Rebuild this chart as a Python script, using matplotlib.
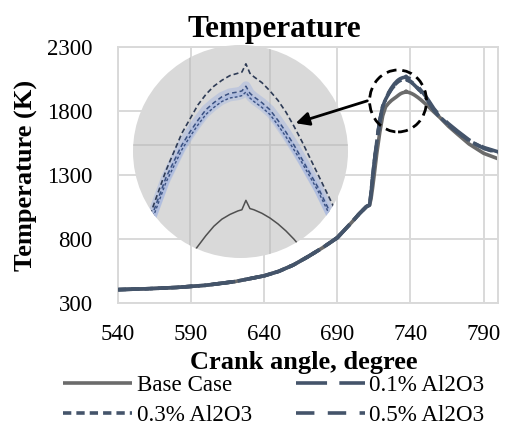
import matplotlib
matplotlib.use('Agg')
import matplotlib.pyplot as plt
from matplotlib.patches import Ellipse, FancyArrowPatch

# dane
angle = [540, 560, 580, 600, 620, 640, 650, 660, 670, 680, 690, 700, 705, 710, 712, 713,
         714, 715, 717, 719, 721, 723, 725, 727, 729, 730, 731, 732, 733, 734, 735,
         736, 736.5, 737, 737.5, 738, 739, 740, 741, 742, 743, 744, 745, 746, 747, 748,
         750, 752, 754, 756, 760, 766, 772, 780, 790, 800]

base_case = [402, 409, 419, 436, 465, 510, 545, 595, 660, 730, 808, 930, 995, 1052, 1062, 1110,
             1190, 1280, 1470, 1630, 1760, 1830, 1858, 1880, 1897, 1905, 1914, 1923, 1931, 1937, 1941,
             1944, 1945, 1953, 1946, 1945, 1942, 1938, 1933, 1927, 1920, 1912, 1904, 1895, 1886, 1876,
             1856, 1834, 1812, 1790, 1748, 1678, 1618, 1540, 1467, 1424]

al2o3_01 = [402, 409, 419, 436, 465, 510, 545, 595, 660, 730, 808, 930, 995, 1052, 1062, 1150,
            1272, 1375, 1565, 1725, 1835, 1898, 1940, 1978, 2010, 2022, 2034, 2043, 2050, 2055, 2059,
            2061, 2062, 2069, 2061, 2058, 2053, 2046, 2038, 2028, 2016, 2003, 1989, 1975, 1961, 1947,
            1918, 1886, 1851, 1816, 1760, 1698, 1642, 1572, 1513, 1478]

al2o3_03 = [402, 409, 419, 436, 465, 510, 545, 595, 660, 730, 808, 930, 995, 1052, 1062, 1150,
            1270, 1370, 1560, 1720, 1830, 1893, 1935, 1972, 2000, 2011, 2021, 2030, 2036, 2041, 2044,
            2045, 2046, 2050, 2044, 2041, 2036, 2030, 2021, 2011, 2000, 1988, 1976, 1964, 1950, 1936,
            1907, 1876, 1841, 1806, 1752, 1690, 1635, 1566, 1508, 1472]

al2o3_05 = [402, 409, 419, 436, 465, 510, 545, 595, 660, 730, 808, 930, 995, 1052, 1062, 1148,
            1265, 1365, 1555, 1715, 1826, 1889, 1931, 1968, 1996, 2007, 2017, 2026, 2032, 2037, 2040,
            2041, 2042, 2045, 2040, 2037, 2032, 2026, 2017, 2007, 1996, 1985, 1973, 1961, 1947, 1933,
            1904, 1873, 1838, 1803, 1749, 1688, 1633, 1564, 1506, 1470]

x_ticks = [540, 590, 640, 690, 740, 790]
y_ticks = [300, 800, 1300, 1800, 2300]

szary = '#6b6b6b'
niebieski = '#44546a'

plt.rcParams['font.family'] = ['Liberation Serif', 'DejaVu Serif']

W, H = 505, 425
fig = plt.figure(figsize=(W / 100, H / 100), dpi=100)
ax = fig.add_axes([117.8 / W, 1 - 302.7 / H, 380.5 / W, 256 / H])

l0, = ax.plot(angle, base_case, color=szary, lw=2.6, solid_capstyle='butt', label='Base Case', zorder=2)
l1, = ax.plot(angle, al2o3_01, color=niebieski, lw=2.6, ls=(0, (8.6, 3.4)), label='0.1% Al2O3', zorder=3)
l3, = ax.plot(angle, al2o3_03, color=niebieski, lw=2.6, ls=(0, (2.3, 1.4)), label='0.3% Al2O3', zorder=3)
l5, = ax.plot(angle, al2o3_05, color=niebieski, lw=2.6, ls=(0, (5.1, 3.7)), label='0.5% Al2O3', zorder=3)

ax.set_xlim(540, 800)
ax.set_ylim(300, 2300)
ax.set_xticks(x_ticks)
ax.set_yticks(y_ticks)
ax.grid(True, color='#d9d9d9', lw=1.4)
ax.set_axisbelow(True)
for s in ax.spines.values():
    s.set_color('#d9d9d9')
    s.set_linewidth(1.4)
ax.tick_params(length=0, labelsize=16.5)
ax.tick_params(axis='y', pad=18)
ax.tick_params(axis='x', pad=15.5)

# przerywany okrag wokol szczytu
ax.add_patch(Ellipse((731.5, 1876), 38.9, 484, fill=False, ec='black', lw=2,
                     ls=(0, (3.6, 2.1)), zorder=5, clip_on=False))

# napisy
fig.text(274 / W, 1 - 30 / H, 'Temperature', ha='center', va='center', fontsize=22.5, fontweight='bold')
fig.text(304 / W, 1 - 363 / H, 'Crank angle, degree', ha='center', va='center', fontsize=19, fontweight='bold')
fig.text(26 / W, 1 - 175 / H, 'Temperature (K)', ha='center', va='center', rotation=90,
         fontsize=19, fontweight='bold')

# kolejnosc wierszami jak w excelu
fig.legend(handles=[l0, l3, l1, l5], ncol=2, loc='upper left',
           bbox_to_anchor=(63 / W, 1 - 375 / H), frameon=False, fontsize=16.6,
           borderpad=0, borderaxespad=0, handlelength=3.0, handletextpad=0.2,
           columnspacing=1.9, labelspacing=0.36)

# powiekszenie szczytu (okragle)
ax_in = fig.add_axes([133 / W, 1 - 258 / H, 215 / W, 213 / H])
ax_in.set_xlim(722.9, 749.75)
ax_in.set_ylim(1904, 2085)
ax_in.axis('off')
kolo = Ellipse((0.5, 0.5), 1, 1, transform=ax_in.transAxes, fc='#d9d9d9', ec='none', zorder=0)
ax_in.add_patch(kolo)

linie = []
for xv in [730, 740]:
    linie.append(ax_in.axvline(xv, color='#c4c4c4', lw=1.2, zorder=1))
linie.append(ax_in.axhline(2000, color='#c4c4c4', lw=1.2, zorder=1))
linie += ax_in.plot(angle, al2o3_03, color='#8fa8e3', lw=7, alpha=0.35, zorder=2)
linie += ax_in.plot(angle, al2o3_05, color='#8fa8e3', lw=5, alpha=0.3, zorder=2)
linie += ax_in.plot(angle, base_case, color='#505050', lw=1.1, zorder=3)
linie += ax_in.plot(angle, al2o3_01, color='#2e3b55', lw=1.2, ls=(0, (3, 1.8)), zorder=3)
linie += ax_in.plot(angle, al2o3_03, color='#3a5182', lw=1.1, ls=(0, (3, 2)), zorder=3)
linie += ax_in.plot(angle, al2o3_05, color='#3a5182', lw=1.0, ls=(0, (2, 1.5)), zorder=3)
for l in linie:
    l.set_clip_path(kolo)

# strzalka
fig.add_artist(FancyArrowPatch((370 / W, 1 - 100 / H), (293 / W, 1 - 124 / H),
                               transform=fig.transFigure, arrowstyle='-|>', mutation_scale=20,
                               color='black', lw=2, zorder=10))

fig.savefig('out.png', dpi=100)
